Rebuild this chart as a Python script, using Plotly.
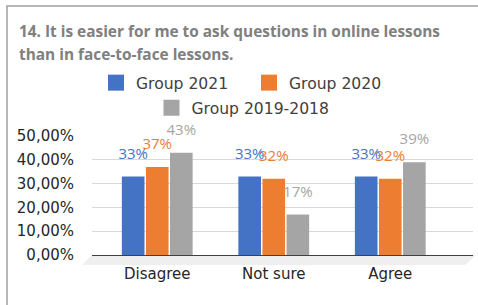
import plotly.graph_objects as go

categories = ["Disagree", "Not sure", "Agree"]
g2021 = [0.33, 0.33, 0.33]
g2020 = [0.37, 0.32, 0.32]
g2019 = [0.43, 0.17, 0.39]
series_names = ["Group 2021", "Group 2020", "Group 2019-2018"]
title_lines = ["14. It is easier for me to ask questions in online lessons",
               "than in face-to-face lessons."]

colors = ["#4472c4", "#ed7d31", "#a5a5a5"]
W, H = 478, 305
L, R, T, B = 92, 5, 136, 50
pw, ph = W - L - R, H - T - B

def px(x):
    return (x - L) / pw

def py(y):
    return (H - B - y) / ph

fig = go.Figure()
legends = ["legend", "legend", "legend2"]
for name, vals, c, lg in zip(series_names, [g2021, g2020, g2019], colors, legends):
    fig.add_trace(go.Bar(
        x=categories, y=vals, name=name,
        marker=dict(color=c, line=dict(width=0)),
        text=[f"<span style='font-size:15px'>{round(v*100)}%</span><br> " for v in vals],
        textposition="outside", constraintext="none",
        textfont=dict(color=c, size=9, family="Open Sans"), cliponaxis=False,
        showlegend=False,
    ))
for name, c, lg in zip(series_names, colors, legends):
    fig.add_trace(go.Scatter(
        x=[None], y=[None], mode="markers", name=name, legend=lg,
        marker=dict(symbol="square", size=18, color=c),
    ))

fig.update_layout(
    width=W, height=H, margin=dict(l=L, r=R, t=T, b=B),
    paper_bgcolor="white", plot_bgcolor="white",
    separators=",.",
    barmode="group", bargap=0.38, bargroupgap=0.06,
    font=dict(family="DejaVu Sans", color="#404040"),
    showlegend=True,
    legend=dict(orientation="h", x=px(249), xanchor="center", y=py(83), yanchor="middle",
                font=dict(size=15.6, color="#404040", family="DejaVu Sans"),
                bgcolor="rgba(0,0,0,0)", itemsizing="trace", entrywidth=108),
    legend2=dict(orientation="h", x=px(243), xanchor="center", y=py(108), yanchor="middle",
                 font=dict(size=15.6, color="#404040", family="DejaVu Sans"),
                 bgcolor="rgba(0,0,0,0)", itemsizing="trace"),
    xaxis=dict(range=[-0.56, 2.71], showgrid=False, showline=False, ticks="",
               tickfont=dict(size=15, color="#262626", family="DejaVu Sans"), ticklabelstandoff=8),
    yaxis=dict(range=[0, 0.5], dtick=0.1, tickformat=".2%", showgrid=True,
               gridcolor="#d9d9d9", gridwidth=1, zeroline=True, zerolinecolor="#404040",
               zerolinewidth=1, showline=False, ticks="",
               tickfont=dict(size=15, color="#262626", family="DejaVu Sans"), ticklabelstandoff=17),
)

for i, line in enumerate(title_lines):
    fig.add_annotation(text=f"<b>{line}</b>", xref="paper", yref="paper",
                       x=px(17), y=py(31 + 23 * i), xanchor="left", yanchor="middle",
                       showarrow=False, font=dict(size=15.4, color="#808080", family="Open Sans"))

# chart-area border
fig.add_shape(type="rect", xref="paper", yref="paper", x0=px(7), x1=px(495), y0=py(320), y1=py(6),
              line=dict(color="#a0a0a0", width=1.5), fillcolor="rgba(0,0,0,0)", layer="above")
# floor
fig.add_shape(type="path", xref="paper", yref="paper",
              path=f"M {px(82)} {py(265)} L {px(465)} {py(265)} L {px(476)} {py(255)} L {px(92)} {py(255)} Z",
              line=dict(width=0), fillcolor="#efefef", layer="below")

fig.write_html("out.html", config={"displayModeBar": False},
               post_script="document.body.style.margin='0';document.body.style.overflow='hidden';")
